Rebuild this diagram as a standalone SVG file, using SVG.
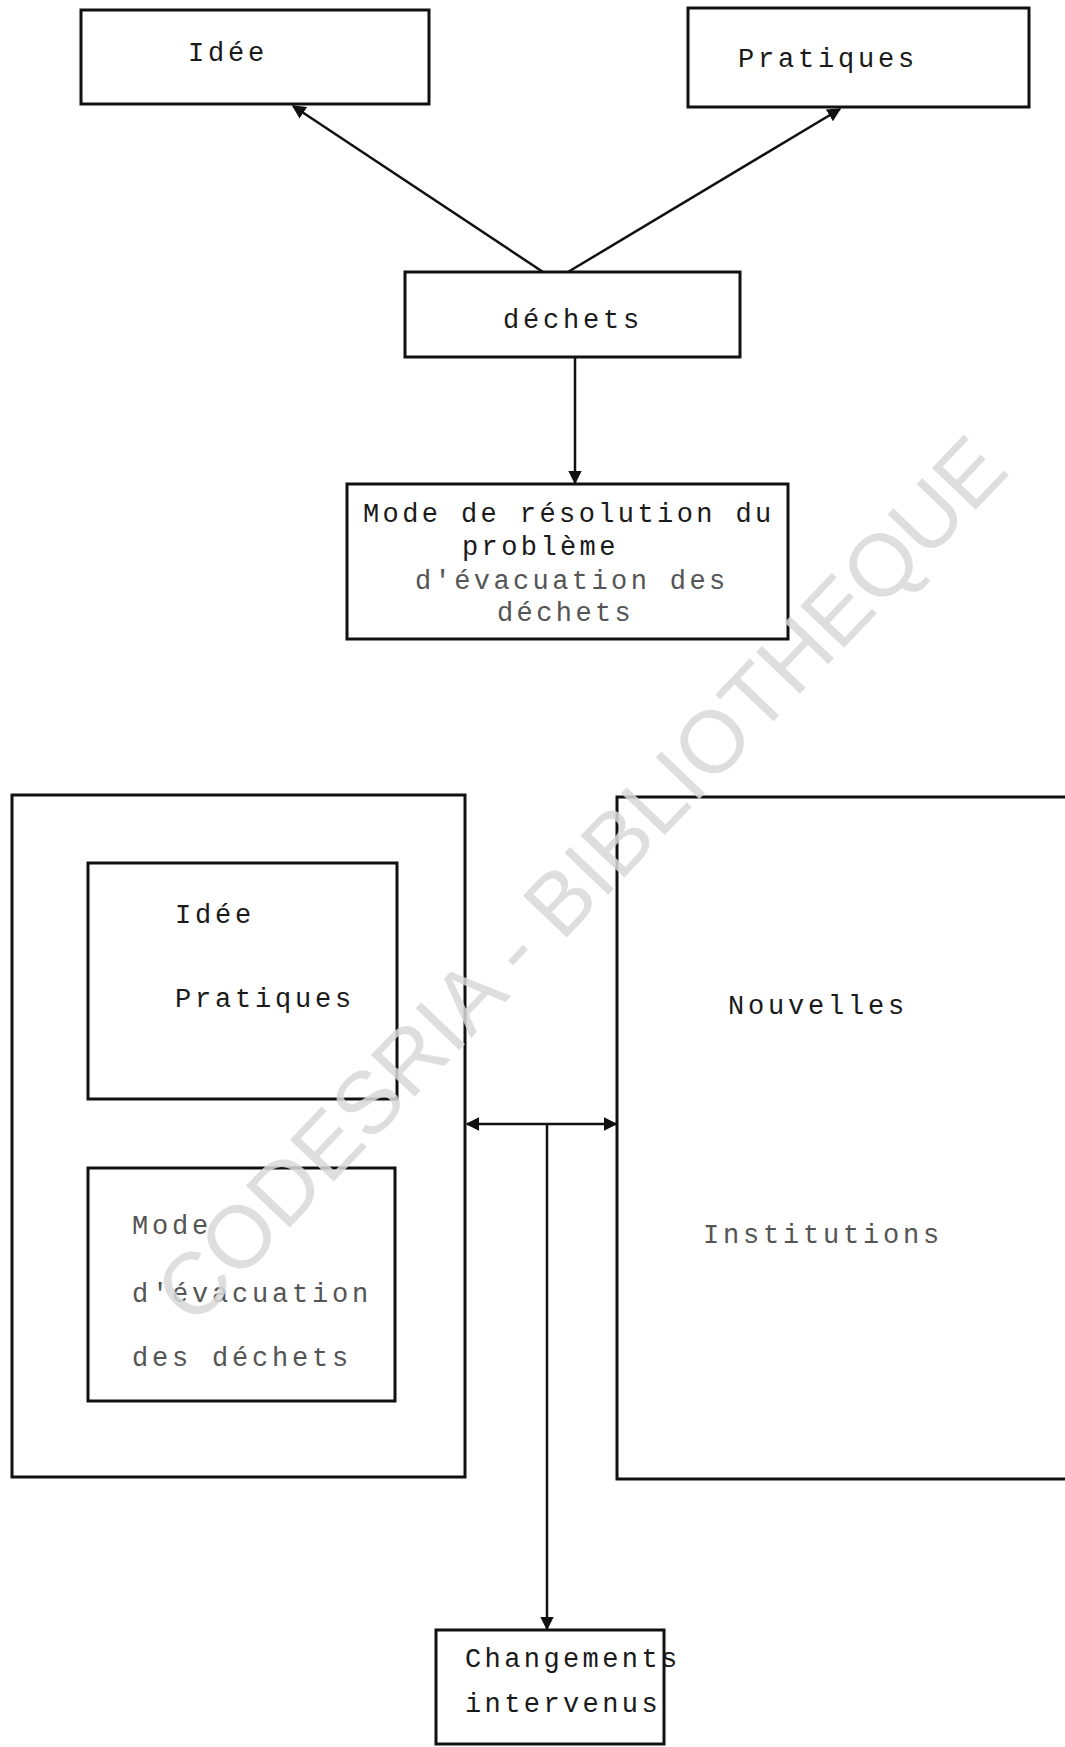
<svg xmlns="http://www.w3.org/2000/svg" width="1065" height="1747" viewBox="0 0 1065 1747">
  <style>
    .box { fill: none; stroke: #111; stroke-width: 3; }
    .t { font-family: "Liberation Mono", "DejaVu Sans Mono", monospace; font-size: 27px; letter-spacing: 3.8px; fill: #1a1a1a; }
    .f { fill: #555; }
    .c { stroke: #111; stroke-width: 2.5; fill: none; }
    .wm { font-family: "Liberation Sans", Arial, sans-serif; font-size: 88px; fill: #d9d9d9; opacity: 0.85; }
  </style>
  <defs>
    <marker id="ah" viewBox="0 0 10 10" refX="9" refY="5" markerWidth="5.5" markerHeight="5.5" orient="auto-start-reverse" markerUnits="strokeWidth">
      <path d="M0,0 L10,5 L0,10 z" fill="#111"/>
    </marker>
  </defs>
  <rect width="1065" height="1747" fill="#fff"/>

  <g id="idee">
    <rect class="box" x="81" y="10" width="348" height="94"/>
    <text class="t" x="188" y="61">Idée</text>
  </g>
  <g id="pratiques">
    <rect class="box" x="688" y="8" width="341" height="99"/>
    <text class="t" x="738" y="67">Pratiques</text>
  </g>
  <g id="dechets">
    <rect class="box" x="405" y="272" width="335" height="85"/>
    <text class="t" x="503" y="328">déchets</text>
  </g>
  <g id="mode-resolution">
    <rect class="box" x="347" y="484" width="441" height="155"/>
    <text class="t" x="363" y="522" style="letter-spacing:3.4px">Mode de résolution du</text>
    <text class="t" x="462" y="555" style="letter-spacing:3.4px">problème</text>
    <text class="t f" x="415" y="589" style="letter-spacing:3.4px">d'évacuation des</text>
    <text class="t f" x="497" y="621" style="letter-spacing:3.4px">déchets</text>
  </g>

  <g id="ensemble-gauche">
    <rect class="box" x="12" y="795" width="453" height="682"/>
  </g>
  <g id="idee-pratiques">
    <rect class="box" x="88" y="863" width="309" height="236"/>
    <text class="t" x="175" y="923">Idée</text>
    <text class="t" x="175" y="1007">Pratiques</text>
  </g>
  <g id="mode-evacuation">
    <rect class="box" x="88" y="1168" width="307" height="233"/>
    <text class="t f" x="132" y="1234">Mode</text>
    <text class="t f" x="132" y="1302">d'évacuation</text>
    <text class="t f" x="132" y="1366">des déchets</text>
  </g>
  <g id="nouvelles-institutions">
    <rect class="box" x="617" y="797" width="460" height="682"/>
    <text class="t" x="728" y="1014">Nouvelles</text>
    <text class="t f" x="703" y="1243">Institutions</text>
  </g>
  <g id="changements">
    <rect class="box" x="436" y="1630" width="228" height="114"/>
    <text class="t" x="465" y="1667" style="letter-spacing:3.4px">Changements</text>
    <text class="t" x="465" y="1712" style="letter-spacing:3.4px">intervenus</text>
  </g>

  <g id="connectors">
    <line class="c" x1="543" y1="272" x2="293" y2="106" marker-end="url(#ah)"/>
    <line class="c" x1="568" y1="272" x2="840" y2="109" marker-end="url(#ah)"/>
    <line class="c" x1="575" y1="357" x2="575" y2="483" marker-end="url(#ah)"/>
    <line class="c" x1="467" y1="1124" x2="616" y2="1124" marker-start="url(#ah)" marker-end="url(#ah)"/>
    <line class="c" x1="547" y1="1124" x2="547" y2="1629" marker-end="url(#ah)"/>
  </g>

  <text class="wm" x="580" y="910" text-anchor="middle" transform="rotate(-46.3 580 879)">CODESRIA - BIBLIOTHEQUE</text>
</svg>
